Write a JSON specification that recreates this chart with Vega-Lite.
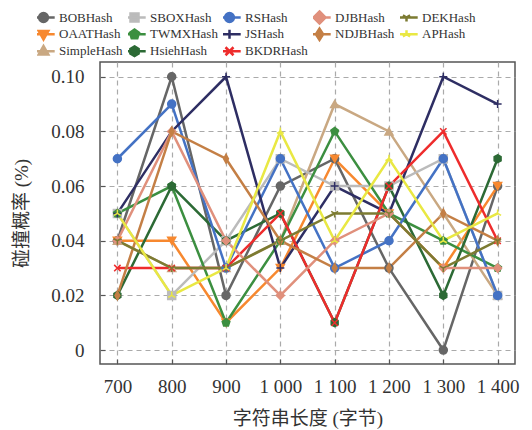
{
  "$schema": "https://vega.github.io/schema/vega-lite/v6.json",
  "autosize": "none",
  "width": 415,
  "height": 302,
  "padding": {"left": 100, "top": 62, "right": 17, "bottom": 66},
  "background": "white",
  "config": {
    "view": {"stroke": "#555555", "strokeWidth": 1.5},
    "font": "Liberation Serif, Noto Sans CJK SC",
    "axis": {
      "domain": false,
      "grid": true,
      "gridColor": "#aaaaaa",
      "gridDash": [5, 4],
      "gridWidth": 1.2,
      "tickSize": -5,
      "tickColor": "#555555",
      "tickWidth": 1.2,
      "labelFont": "Liberation Serif",
      "labelFontSize": 19,
      "labelColor": "#333333",
      "titleFont": "Liberation Serif, Noto Sans CJK SC",
      "titleFontSize": 19,
      "titleFontWeight": "normal",
      "titleColor": "#333333"
    }
  },
  "data": {
    "values": [
      {"hash": "BOBHash", "len": 700, "rate": 0.04}, {"hash": "BOBHash", "len": 800, "rate": 0.10}, {"hash": "BOBHash", "len": 900, "rate": 0.02}, {"hash": "BOBHash", "len": 1000, "rate": 0.06}, {"hash": "BOBHash", "len": 1100, "rate": 0.07}, {"hash": "BOBHash", "len": 1200, "rate": 0.03}, {"hash": "BOBHash", "len": 1300, "rate": 0.00}, {"hash": "BOBHash", "len": 1400, "rate": 0.06},
      {"hash": "OAATHash", "len": 700, "rate": 0.04}, {"hash": "OAATHash", "len": 800, "rate": 0.04}, {"hash": "OAATHash", "len": 900, "rate": 0.01}, {"hash": "OAATHash", "len": 1000, "rate": 0.03}, {"hash": "OAATHash", "len": 1100, "rate": 0.07}, {"hash": "OAATHash", "len": 1200, "rate": 0.05}, {"hash": "OAATHash", "len": 1300, "rate": 0.03}, {"hash": "OAATHash", "len": 1400, "rate": 0.06},
      {"hash": "SimpleHash", "len": 700, "rate": 0.04}, {"hash": "SimpleHash", "len": 800, "rate": 0.03}, {"hash": "SimpleHash", "len": 900, "rate": 0.03}, {"hash": "SimpleHash", "len": 1000, "rate": 0.04}, {"hash": "SimpleHash", "len": 1100, "rate": 0.09}, {"hash": "SimpleHash", "len": 1200, "rate": 0.08}, {"hash": "SimpleHash", "len": 1300, "rate": 0.05}, {"hash": "SimpleHash", "len": 1400, "rate": 0.02},
      {"hash": "SBOXHash", "len": 700, "rate": 0.05}, {"hash": "SBOXHash", "len": 800, "rate": 0.02}, {"hash": "SBOXHash", "len": 900, "rate": 0.04}, {"hash": "SBOXHash", "len": 1000, "rate": 0.07}, {"hash": "SBOXHash", "len": 1100, "rate": 0.06}, {"hash": "SBOXHash", "len": 1200, "rate": 0.06}, {"hash": "SBOXHash", "len": 1300, "rate": 0.07}, {"hash": "SBOXHash", "len": 1400, "rate": 0.02},
      {"hash": "TWMXHash", "len": 700, "rate": 0.05}, {"hash": "TWMXHash", "len": 800, "rate": 0.06}, {"hash": "TWMXHash", "len": 900, "rate": 0.01}, {"hash": "TWMXHash", "len": 1000, "rate": 0.04}, {"hash": "TWMXHash", "len": 1100, "rate": 0.08}, {"hash": "TWMXHash", "len": 1200, "rate": 0.05}, {"hash": "TWMXHash", "len": 1300, "rate": 0.04}, {"hash": "TWMXHash", "len": 1400, "rate": 0.03},
      {"hash": "HsiehHash", "len": 700, "rate": 0.02}, {"hash": "HsiehHash", "len": 800, "rate": 0.06}, {"hash": "HsiehHash", "len": 900, "rate": 0.04}, {"hash": "HsiehHash", "len": 1000, "rate": 0.05}, {"hash": "HsiehHash", "len": 1100, "rate": 0.01}, {"hash": "HsiehHash", "len": 1200, "rate": 0.06}, {"hash": "HsiehHash", "len": 1300, "rate": 0.02}, {"hash": "HsiehHash", "len": 1400, "rate": 0.07},
      {"hash": "RSHash", "len": 700, "rate": 0.07}, {"hash": "RSHash", "len": 800, "rate": 0.09}, {"hash": "RSHash", "len": 900, "rate": 0.03}, {"hash": "RSHash", "len": 1000, "rate": 0.07}, {"hash": "RSHash", "len": 1100, "rate": 0.03}, {"hash": "RSHash", "len": 1200, "rate": 0.04}, {"hash": "RSHash", "len": 1300, "rate": 0.07}, {"hash": "RSHash", "len": 1400, "rate": 0.02},
      {"hash": "JSHash", "len": 700, "rate": 0.05}, {"hash": "JSHash", "len": 800, "rate": 0.08}, {"hash": "JSHash", "len": 900, "rate": 0.10}, {"hash": "JSHash", "len": 1000, "rate": 0.03}, {"hash": "JSHash", "len": 1100, "rate": 0.06}, {"hash": "JSHash", "len": 1200, "rate": 0.05}, {"hash": "JSHash", "len": 1300, "rate": 0.10}, {"hash": "JSHash", "len": 1400, "rate": 0.09},
      {"hash": "BKDRHash", "len": 700, "rate": 0.03}, {"hash": "BKDRHash", "len": 800, "rate": 0.03}, {"hash": "BKDRHash", "len": 900, "rate": 0.03}, {"hash": "BKDRHash", "len": 1000, "rate": 0.05}, {"hash": "BKDRHash", "len": 1100, "rate": 0.01}, {"hash": "BKDRHash", "len": 1200, "rate": 0.06}, {"hash": "BKDRHash", "len": 1300, "rate": 0.08}, {"hash": "BKDRHash", "len": 1400, "rate": 0.04},
      {"hash": "DJBHash", "len": 700, "rate": 0.04}, {"hash": "DJBHash", "len": 800, "rate": 0.08}, {"hash": "DJBHash", "len": 900, "rate": 0.04}, {"hash": "DJBHash", "len": 1000, "rate": 0.02}, {"hash": "DJBHash", "len": 1100, "rate": 0.04}, {"hash": "DJBHash", "len": 1200, "rate": 0.05}, {"hash": "DJBHash", "len": 1300, "rate": 0.03}, {"hash": "DJBHash", "len": 1400, "rate": 0.03},
      {"hash": "NDJBHash", "len": 700, "rate": 0.02}, {"hash": "NDJBHash", "len": 800, "rate": 0.08}, {"hash": "NDJBHash", "len": 900, "rate": 0.07}, {"hash": "NDJBHash", "len": 1000, "rate": 0.04}, {"hash": "NDJBHash", "len": 1100, "rate": 0.03}, {"hash": "NDJBHash", "len": 1200, "rate": 0.03}, {"hash": "NDJBHash", "len": 1300, "rate": 0.05}, {"hash": "NDJBHash", "len": 1400, "rate": 0.04},
      {"hash": "DEKHash", "len": 700, "rate": 0.04}, {"hash": "DEKHash", "len": 800, "rate": 0.03}, {"hash": "DEKHash", "len": 900, "rate": 0.03}, {"hash": "DEKHash", "len": 1000, "rate": 0.04}, {"hash": "DEKHash", "len": 1100, "rate": 0.05}, {"hash": "DEKHash", "len": 1200, "rate": 0.05}, {"hash": "DEKHash", "len": 1300, "rate": 0.03}, {"hash": "DEKHash", "len": 1400, "rate": 0.04},
      {"hash": "APHash", "len": 700, "rate": 0.05}, {"hash": "APHash", "len": 800, "rate": 0.02}, {"hash": "APHash", "len": 900, "rate": 0.03}, {"hash": "APHash", "len": 1000, "rate": 0.08}, {"hash": "APHash", "len": 1100, "rate": 0.04}, {"hash": "APHash", "len": 1200, "rate": 0.07}, {"hash": "APHash", "len": 1300, "rate": 0.04}, {"hash": "APHash", "len": 1400, "rate": 0.05}
    ]
  },
  "encoding": {
    "x": {
      "field": "len", "type": "quantitative",
      "scale": {"domain": [668, 1432], "nice": false, "zero": false},
      "axis": {
        "values": [700, 800, 900, 1000, 1100, 1200, 1300, 1400],
        "labelExpr": "datum.value >= 1000 ? floor(datum.value / 1000) + ' ' + format(datum.value % 1000, '03d') : '' + datum.value",
        "labelPadding": 18,
        "title": "字符串长度 (字节)",
        "titlePadding": 13
      }
    },
    "y": {
      "field": "rate", "type": "quantitative",
      "scale": {"domain": [-0.0051, 0.1054], "nice": false, "zero": false},
      "axis": {
        "values": [0, 0.02, 0.04, 0.06, 0.08, 0.1],
        "labelExpr": "datum.value == 0 ? '0' : format(datum.value, '.2f')",
        "labelPadding": 21,
        "title": "碰撞概率 (%)",
        "titlePadding": 19
      }
    },
    "color": {
      "field": "hash", "type": "nominal",
      "scale": {
        "domain": ["BOBHash", "SBOXHash", "RSHash", "DJBHash", "DEKHash", "OAATHash", "TWMXHash", "JSHash", "NDJBHash", "APHash", "SimpleHash", "HsiehHash", "BKDRHash"],
        "range": ["#666666", "#bbbbbb", "#4472c4", "#e0907c", "#7c7b32", "#f7882f", "#3c8f40", "#2e2e63", "#c47f45", "#e9e843", "#c9a882", "#2c6a35", "#ee2c2c"]
      },
      "legend": {
        "orient": "none",
        "direction": "horizontal",
        "legendX": -63,
        "legendY": -53,
        "columns": 5,
        "columnPadding": 5,
        "rowPadding": 0,
        "clipHeight": 16.5,
        "gridAlign": "each",
        "padding": 0,
        "title": null,
        "symbolSize": 100,
        "labelFont": "Liberation Serif",
        "labelFontSize": 13,
        "labelColor": "#333333",
        "labelOffset": 9,
        "encode": {
          "symbols": {
            "update": {
              "shape": {"signal": "datum.value==='BOBHash'||datum.value==='RSHash' ? 'M-2.24,0H2.24M0.88,0A0.88,0.88,0,1,1,-0.88,0A0.88,0.88,0,1,1,0.88,0Z' : datum.value==='OAATHash' ? 'M-2.24,0H2.24M-0.96,-0.64L0.96,-0.64L0,1.04Z' : datum.value==='SimpleHash' ? 'M-2.24,0H2.24M-0.96,0.64L0.96,0.64L0,-1.04Z' : datum.value==='SBOXHash' ? 'M-2.24,0H2.24M-0.8,-0.8H0.8V0.8H-0.8Z' : datum.value==='TWMXHash' ? 'M-2.24,0H2.24M0,-0.96L0.91,-0.3L0.56,0.78L-0.56,0.78L-0.91,-0.3Z' : datum.value==='HsiehHash' ? 'M-2.24,0H2.24M0,-0.96L0.83,-0.48L0.83,0.48L0,0.96L-0.83,0.48L-0.83,-0.48Z' : datum.value==='JSHash' ? 'M-2.24,0H2.24M0,-0.88V0.88' : datum.value==='BKDRHash' ? 'M-2.24,0H2.24M-0.8,-0.8L0.8,0.8M-0.8,0.8L0.8,-0.8' : datum.value==='DJBHash' ? 'M-2.24,0H2.24M0,-1.2L1.2,0L0,1.2L-1.2,0Z' : datum.value==='NDJBHash' ? 'M-2.24,0H2.24M0,-1.12L0.72,0L0,1.12L-0.72,0Z' : datum.value==='DEKHash' ? 'M-2.24,0H2.24M0,0V0.8M0,0L-0.72,-0.42M0,0L0.72,-0.42' : 'M-2.24,0H2.24M0,0V-0.8M0,0L-0.72,0.42M0,0L0.72,0.42'"},
              "fill": {"scale": "color", "field": "value"},
              "stroke": {"scale": "color", "field": "value"},
              "strokeWidth": {"value": 2.5},
              "opacity": {"value": 1}
            }
          }
        }
      }
    }
  },
  "layer": [
    {
      "mark": {"type": "line", "strokeWidth": 2.5},
      "encoding": {}
    },
    {
      "mark": {"type": "point", "filled": true, "size": 64, "strokeWidth": 1.5, "opacity": 1},
      "encoding": {
        "shape": {
          "field": "hash", "type": "nominal",
          "scale": {
            "domain": ["BOBHash", "OAATHash", "SimpleHash", "SBOXHash", "TWMXHash", "HsiehHash", "RSHash", "JSHash", "BKDRHash", "DJBHash", "NDJBHash", "DEKHash", "APHash"],
            "range": ["circle", "triangle-down", "triangle-up", "square", "M0,-1L0.951,-0.309L0.588,0.809L-0.588,0.809L-0.951,-0.309Z", "M0,-1L0.866,-0.5L0.866,0.5L0,1L-0.866,0.5L-0.866,-0.5Z", "circle", "M-1,0H1M0,-1V1", "M-0.8,-0.8L0.8,0.8M-0.8,0.8L0.8,-0.8", "diamond", "M0,-1.1L0.6,0L0,1.1L-0.6,0Z", "M0,0V1M0,0L-0.87,-0.5M0,0L0.87,-0.5", "M0,0V-1M0,0L-0.87,0.5M0,0L0.87,0.5"]
          },
          "legend": null
        },
        "stroke": {
          "field": "hash", "type": "nominal",
          "scale": {
            "domain": ["BOBHash", "SBOXHash", "RSHash", "DJBHash", "DEKHash", "OAATHash", "TWMXHash", "JSHash", "NDJBHash", "APHash", "SimpleHash", "HsiehHash", "BKDRHash"],
            "range": ["#666666", "#bbbbbb", "#4472c4", "#e0907c", "#7c7b32", "#f7882f", "#3c8f40", "#2e2e63", "#c47f45", "#e9e843", "#c9a882", "#2c6a35", "#ee2c2c"]
          },
          "legend": null
        }
      }
    }
  ]
}
